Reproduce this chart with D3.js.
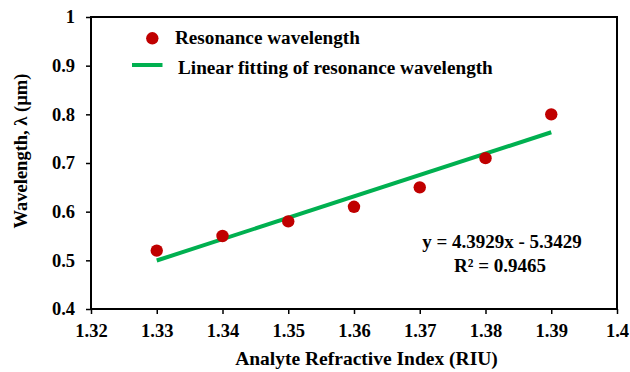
<!DOCTYPE html>
<html><head><meta charset="utf-8">
<script src="https://cdn.jsdelivr.net/npm/d3@7"></script>
</head><body style="margin:0">
<script>
const riIndex = [1.33, 1.34, 1.35, 1.36, 1.37, 1.38, 1.39];
const wavelength = [0.52, 0.55, 0.58, 0.61, 0.65, 0.71, 0.80];
const fitSlope = 4.3929, fitIntercept = -5.3429;
const xTicks = [1.32, 1.33, 1.34, 1.35, 1.36, 1.37, 1.38, 1.39, 1.4];
const yTicks = [0.4, 0.5, 0.6, 0.7, 0.8, 0.9, 1];
const legendLabels = ["Resonance wavelength", "Linear fitting of resonance wavelength"];

const FONT = '"Liberation Serif"';
const fs = 18.5;
const W = 630, H = 372;
const m = {l: 91, r: 13, t: 17, b: 63};
const svg = d3.select("body").append("svg").attr("width", W).attr("height", H).style("display", "block");
const x = d3.scaleLinear().domain([1.32, 1.4]).range([m.l, W - m.r]);
const y = d3.scaleLinear().domain([0.4, 1]).range([H - m.b, m.t]);

function styleText(sel, size) {
  return sel.style("font-family", FONT).style("font-weight", "bold").style("font-size", (size || fs) + "px").attr("fill", "#000");
}

const gx = svg.append("g").attr("transform", `translate(0,${H - m.b})`)
  .call(d3.axisBottom(x).tickValues(xTicks).tickFormat(d => String(+d.toFixed(2))).tickSize(5).tickSizeOuter(0));
const gy = svg.append("g").attr("transform", `translate(${m.l},0)`)
  .call(d3.axisLeft(y).tickValues(yTicks).tickFormat(d => String(+d.toFixed(1))).tickSize(5).tickSizeOuter(0));
[gx, gy].forEach(g => {
  g.attr("font-family", null).attr("font-size", null);
  g.select(".domain").remove();
  g.selectAll("line").attr("stroke", "#000").attr("stroke-width", 1.5);
  styleText(g.selectAll("text"));
});
gx.selectAll("text").attr("y", 28).attr("dy", 0);
gy.selectAll("text").attr("x", -16);

svg.append("rect").attr("x", x(1.32)).attr("y", y(1)).attr("width", x(1.4) - x(1.32)).attr("height", y(0.4) - y(1))
  .attr("fill", "none").attr("stroke", "#000").attr("stroke-width", 2);

const xs = d3.extent(riIndex);
svg.append("line")
  .attr("x1", x(xs[0])).attr("y1", y(fitSlope * xs[0] + fitIntercept))
  .attr("x2", x(xs[1])).attr("y2", y(fitSlope * xs[1] + fitIntercept))
  .attr("stroke", "#00B050").attr("stroke-width", 4);

svg.selectAll("circle.pt").data(riIndex).join("circle").attr("class", "pt")
  .attr("cx", d => x(d)).attr("cy", (d, i) => y(wavelength[i])).attr("r", 6.2).attr("fill", "#C00000");

svg.append("circle").attr("cx", 152.3).attr("cy", 38.3).attr("r", 6.2).attr("fill", "#C00000");
styleText(svg.append("text").attr("x", 175).attr("y", 44).text(legendLabels[0]), 19.2);
svg.append("line").attr("x1", 132).attr("x2", 162.5).attr("y1", 65).attr("y2", 65).attr("stroke", "#00B050").attr("stroke-width", 4);
styleText(svg.append("text").attr("x", 178).attr("y", 74).text(legendLabels[1]), 19.2);

styleText(svg.append("text").attr("x", 502).attr("y", 248).attr("text-anchor", "middle")
  .text(`y = ${fitSlope}x - ${Math.abs(fitIntercept)}`), 19);
styleText(svg.append("text").attr("x", 500).attr("y", 271.5).attr("text-anchor", "middle")
  .text("R² = 0.9465"), 19);

styleText(svg.append("text").attr("x", 366.5).attr("y", 365).attr("text-anchor", "middle")
  .text("Analyte Refractive Index (RIU)"), 19.5);
styleText(svg.append("text").attr("transform", `translate(27,151) rotate(-90)`).attr("text-anchor", "middle")
  .text("Wavelength, λ (µm)"));
</script>
</body></html>
